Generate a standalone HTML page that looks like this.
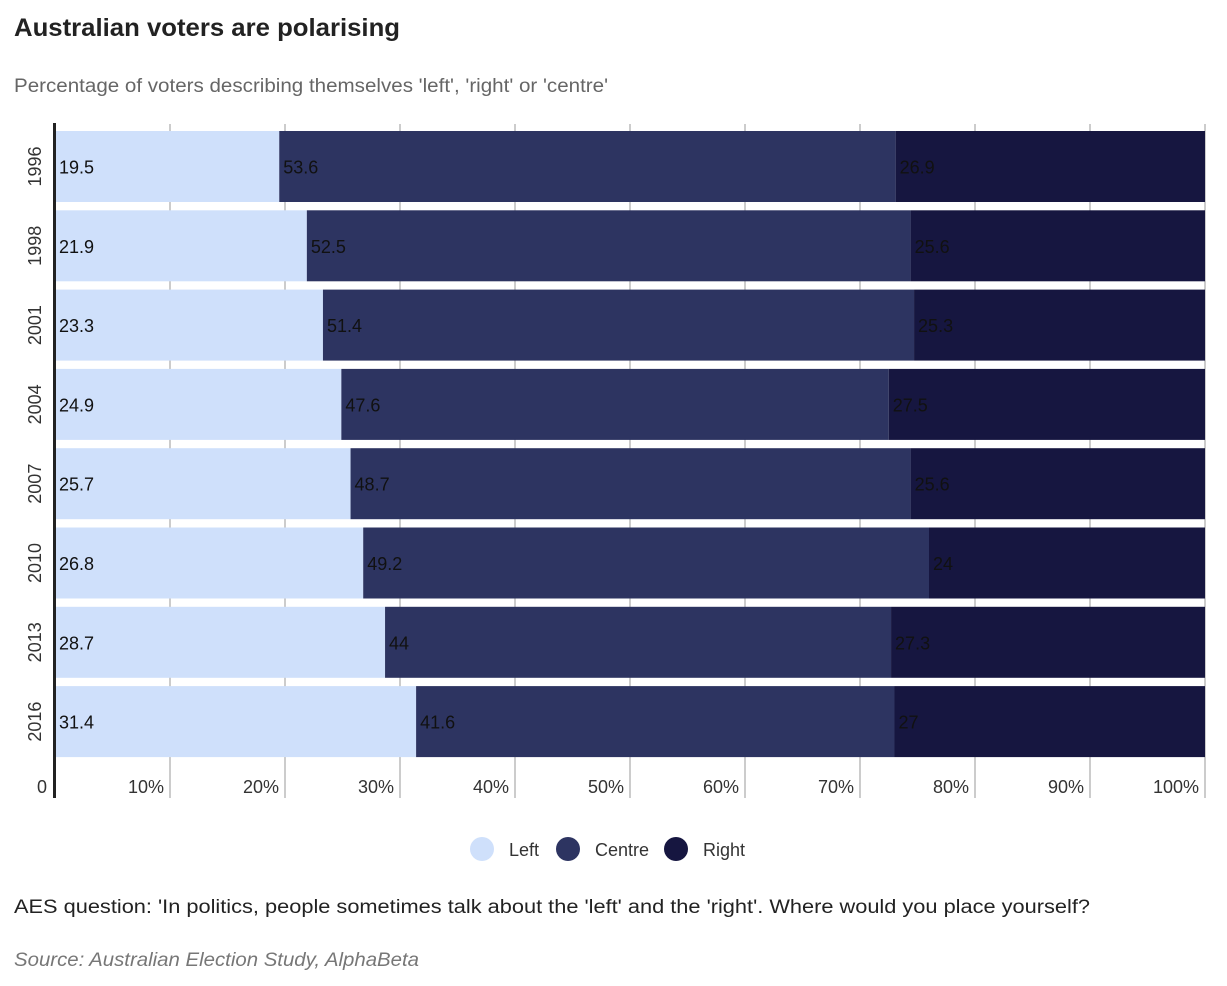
<!DOCTYPE html>
<html><head><meta charset="utf-8"><style>
body{margin:0;background:#fff;font-family:"Liberation Sans",sans-serif;}
svg{display:block}
</style></head><body>
<svg width="1227" height="986" id="c">
<text x="14" y="36" font-size="25" font-weight="bold" fill="#222" textLength="386" lengthAdjust="spacingAndGlyphs">Australian voters are polarising</text>
<text x="14" y="92" font-size="19" fill="#666" textLength="594" lengthAdjust="spacingAndGlyphs">Percentage of voters describing themselves 'left', 'right' or 'centre'</text>
<g id="grid"></g><g id="bars"></g><g id="axis"></g>
<g>
<circle cx="482" cy="849" r="12" fill="#cfe0fb"/>
<text x="509" y="856" font-size="18" fill="#333">Left</text>
<circle cx="568" cy="849" r="12" fill="#2d3461"/>
<text x="595" y="856" font-size="18" fill="#333">Centre</text>
<circle cx="676" cy="849" r="12" fill="#161640"/>
<text x="703" y="856" font-size="18" fill="#333">Right</text>
</g>
<text x="14" y="913" font-size="19" fill="#222" textLength="1076" lengthAdjust="spacingAndGlyphs">AES question: 'In politics, people sometimes talk about the 'left' and the 'right'. Where would you place yourself?</text>
<text x="14" y="966" font-size="19" font-style="italic" fill="#777" textLength="405" lengthAdjust="spacingAndGlyphs">Source: Australian Election Study, AlphaBeta</text>
</svg>
<script>
const years=["1996","1998","2001","2004","2007","2010","2013","2016"];
const left=[19.5,21.9,23.3,24.9,25.7,26.8,28.7,31.4];
const centre=[53.6,52.5,51.4,47.6,48.7,49.2,44,41.6];
const right=[26.9,25.6,25.3,27.5,25.6,24,27.3,27];
const ticks=[0,10,20,30,40,50,60,70,80,90,100];
const NS="http://www.w3.org/2000/svg";
const x0=55,x1=1205,top0=131,pitch=79.3,bh=71;
const xs=v=>x0+(x1-x0)*v/100;
function mk(p,t,a){const e=document.createElementNS(NS,t);for(const k in a)e.setAttribute(k,a[k]);p.appendChild(e);return e;}
const g=document.getElementById('grid'),b=document.getElementById('bars'),ax=document.getElementById('axis');
ticks.forEach(t=>{
 if(t>0){const l=mk(g,'line',{x1:xs(t),x2:xs(t),y1:124,y2:798,stroke:'#999','stroke-width':1});
 
 }
 const tx=mk(ax,'text',{x:t===0?47:xs(t)-6,y:793,'font-size':18,fill:'#333','text-anchor':'end'});
 tx.textContent=t===0?'0':t+'%';
 
 
});
const cols=['#cfe0fb','#2d3461','#161640'];
years.forEach((y,i)=>{
 const yt=top0+i*pitch;
 const vals=[left[i],centre[i],right[i]];let acc=0;
 vals.forEach((v,j)=>{
  const xa=xs(acc),xb=j===2?x1:xs(acc+v);
  const r=mk(b,'rect',{x:xa,y:yt,width:xb-xa,height:bh,fill:cols[j]});
  
  
  const t=mk(b,'text',{x:xa+4,y:yt+bh/2+7,'font-size':18,fill:'#111'});
  t.textContent=v;
  
  
  acc+=v;
 });
 const yl=mk(ax,'text',{transform:`translate(41,${yt+bh/2}) rotate(-90)`,'font-size':18,fill:'#333','text-anchor':'middle'});
 yl.textContent=y;
 
 
});
const al=mk(ax,'line',{x1:54.5,x2:54.5,y1:123,y2:798,stroke:'#222','stroke-width':3});


</script>
</body></html>
